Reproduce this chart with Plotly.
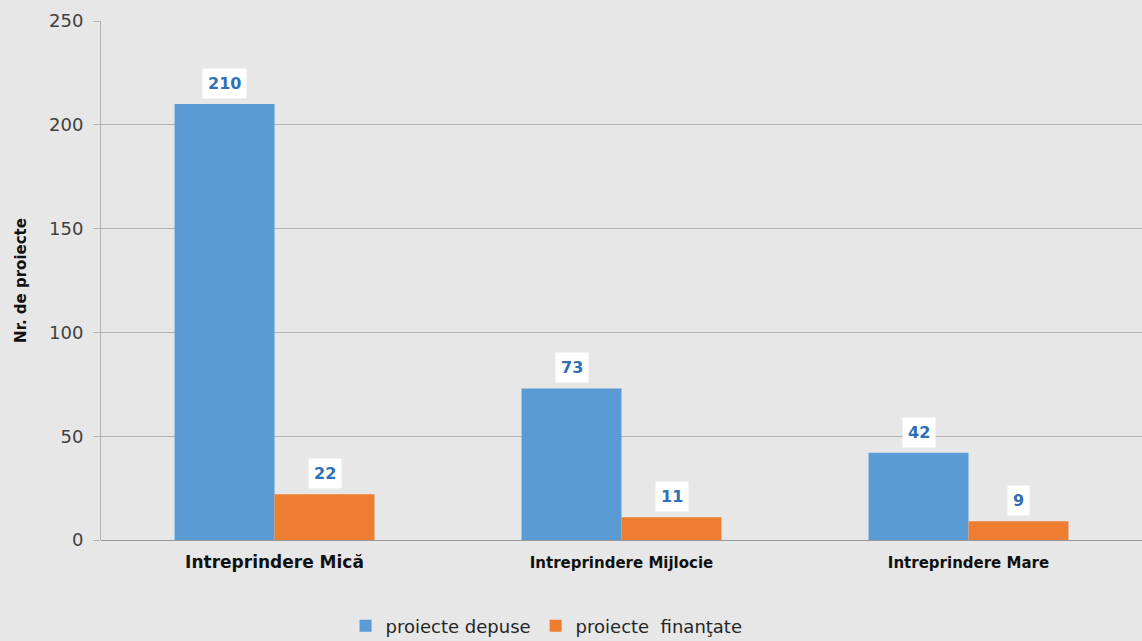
import plotly.graph_objects as go

categories = ["Intreprindere Mică", "Intreprindere Mijlocie", "Intreprindere Mare"]
depuse = [210, 73, 42]
finantate = [22, 11, 9]
series_names = ["proiecte depuse", "proiecte  finanţate"]
y_ticks = [0, 50, 100, 150, 200, 250]

tick_text = [
    '<span style="font-size:17px">' + categories[0] + '</span>',
    categories[1],
    categories[2],
]

fig = go.Figure()
fig.add_trace(go.Bar(x=categories, y=depuse, name=series_names[0],
                     marker=dict(color="#5b9bd5", line=dict(width=0))))
fig.add_trace(go.Bar(x=categories, y=finantate, name=series_names[1],
                     marker=dict(color="#ed7d31", line=dict(width=0))))

annotations = []
for cat, v1, v2 in zip(categories, depuse, finantate):
    for v, shift in ((v1, -50), (v2, 50)):
        annotations.append(dict(
            x=cat, y=v, xref="x", yref="y", text="<b>%d</b>" % v,
            showarrow=False, xshift=shift, yanchor="bottom", yshift=5,
            bgcolor="white", borderpad=5,
            font=dict(family="DejaVu Sans", size=16, color="#2f6fb5"),
        ))

fig.update_layout(
    width=1142, height=641,
    margin=dict(l=101, r=0, t=21, b=101, autoexpand=False),
    paper_bgcolor="#e7e7e7", plot_bgcolor="#e7e7e7",
    barmode="group", bargap=0.424, bargroupgap=0,
    font=dict(family="DejaVu Sans", color="#404040"),
    annotations=annotations,
    legend=dict(orientation="h", x=0.428, xanchor="center", y=-0.166, yanchor="middle",
                font=dict(family="DejaVu Sans", size=18, color="#262626"),
                itemwidth=30, traceorder="normal"),
    showlegend=True,
)
fig.update_xaxes(
    tickvals=categories, ticktext=tick_text,
    tickfont=dict(family="DejaVu Sans", size=15, color="#111111", weight="bold"),
    showgrid=False, showline=False, ticks="", ticklabelstandoff=12,
    automargin=False,
)
fig.update_yaxes(
    range=[0, 250], tickvals=y_ticks,
    tickfont=dict(family="DejaVu Sans", size=18, color="#404040"),
    showgrid=True, gridcolor="#b4b4b4", gridwidth=1,
    zeroline=True, zerolinecolor="#999999", zerolinewidth=1,
    showline=True, linecolor="#b4b4b4", linewidth=1,
    ticks="outside", ticklen=7, tickcolor="#b4b4b4", ticklabelstandoff=6,
    automargin=False,
    title=dict(text="<b>Nr. de proiecte</b>", font=dict(family="DejaVu Sans", size=15, color="#111111"), standoff=18),
)

fig.write_html("out.html", config={"displayModeBar": False},
               post_script="document.body.style.margin='0';")
